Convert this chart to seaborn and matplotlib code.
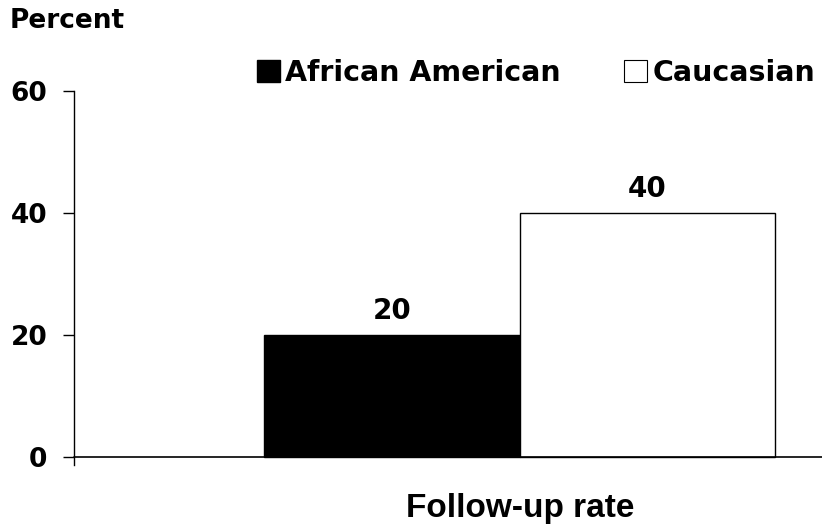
import matplotlib
matplotlib.use("Agg")
import matplotlib.pyplot as plt
import seaborn as sns
import pandas as pd
from matplotlib.patches import Patch

categories = ["Follow-up rate", "Follow-up rate"]
groups = ["African American", "Caucasian"]
values = [20, 40]
yticks = [0, 20, 40, 60]

df = pd.DataFrame({"category": categories, "group": groups, "value": values})

sns.set_theme(style="white")
plt.rcParams["font.family"] = ["DejaVu Sans"]
plt.rcParams["text.color"] = "black"
plt.rcParams["xtick.color"] = "black"
plt.rcParams["ytick.color"] = "black"
plt.rcParams["axes.labelcolor"] = "black"

fig = plt.figure(figsize=(8.22, 5.25), dpi=100)
ax = fig.add_axes([74 / 822, 1 - 465 / 525, 1 - 74 / 822, (465 - 91) / 525])

sns.barplot(data=df, x="category", y="value", hue="group",
            palette=["black", "white"], edgecolor="black", linewidth=1.0,
            width=0.8, ax=ax, legend=False)

ax.set_ylim(-1.3, 60)
ax.set_xlim(-0.698, 0.473)
ax.set_yticks(yticks)
ax.set_yticklabels([str(t) for t in yticks], fontsize=19, fontweight="bold",
                   color="black")
ax.tick_params(axis="y", direction="out", length=8, width=1, color="black", pad=11, left=True)
ax.tick_params(axis="x", length=0, pad=20)
for lbl in ax.get_xticklabels():
    lbl.set_fontsize(24)
    lbl.set_fontweight("bold")
    lbl.set_color("black")
    lbl.set_family(["Liberation Sans Narrow", "Liberation Sans", "DejaVu Sans"])
ax.set_xlabel("")
ax.set_ylabel("")

for s in ["top", "right", "bottom"]:
    ax.spines[s].set_visible(False)
ax.spines["left"].set_color("black")
ax.spines["left"].set_linewidth(1)
ax.axhline(0, color="black", linewidth=1.2, clip_on=False)

for cont in ax.containers:
    ax.bar_label(cont, fmt="%d", padding=7, fontsize=20, fontweight="bold", color="black")

handles = [Patch(facecolor="black", edgecolor="black"),
           Patch(facecolor="white", edgecolor="black", linewidth=0.8)]
fig.legend(handles, groups, loc="center", bbox_to_anchor=(536 / 822, 1 - 73 / 525),
           ncol=2, frameon=False, handlelength=0.8, handleheight=0.8,
           handletextpad=0.2, columnspacing=2.2, labelcolor="black",
           prop={"size": 20.5, "weight": "bold"})

fig.text(10 / 822, 1 - 21 / 525, "Percent", fontsize=19, fontweight="bold",
         ha="left", va="center", color="black")

fig.savefig("out.png", dpi=100, facecolor="white")
